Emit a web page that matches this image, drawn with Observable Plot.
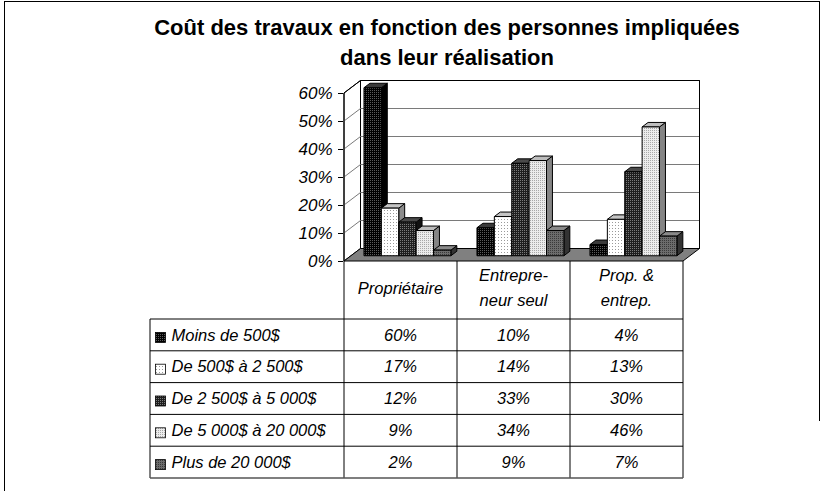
<!DOCTYPE html>
<html><head><meta charset="utf-8">
<script src="https://cdn.jsdelivr.net/npm/d3@7"></script>
<script src="https://cdn.jsdelivr.net/npm/@observablehq/plot@0.6"></script>
<style>
body{margin:0;background:#fff;}
#wrap{position:relative;width:823px;height:491px;overflow:hidden;font-family:"Liberation Sans",Arial,sans-serif;}
#frameL{position:absolute;left:4px;top:1px;width:816px;height:600px;border-left:1px solid #000;border-top:1px solid #000;box-sizing:border-box}
#frameR{position:absolute;left:819px;top:1px;width:1px;height:420px;background:#000}
#title{position:absolute;left:0;width:894px;top:13px;text-align:center;font-weight:bold;font-size:22px;line-height:30px;color:#000}
#chart{position:absolute;left:0;top:0}
</style></head><body>
<div id="wrap"><div id="frameL"></div><div id="frameR"></div><div id="title">Coût des travaux en fonction des personnes impliquées<br>dans leur réalisation</div><div id="chart"></div></div>
<script>
// ---- data ----
const categories = ["Propriétaire", "Entrepreneur seul", "Prop. & entrep."];
const categoryLabels = [["Propriétaire"], ["Entrepre-", "neur seul"], ["Prop. &", "entrep."]];
const series = ["Moins de 500$", "De 500$ à 2 500$", "De 2 500$ à 5 000$", "De 5 000$ à 20 000$", "Plus de 20 000$"];
const moins500 = [0.60, 0.10, 0.04];
const de500a2500 = [0.17, 0.14, 0.13];
const de2500a5000 = [0.12, 0.33, 0.30];
const de5000a20000 = [0.09, 0.34, 0.46];
const plus20000 = [0.02, 0.09, 0.07];
const yTicks = [0, 0.1, 0.2, 0.3, 0.4, 0.5, 0.6];

const seriesValues = [moins500, de500a2500, de2500a5000, de5000a20000, plus20000];
const rows = series.flatMap((s, si) => categories.map((c, ci) => ({series: s, si, category: c, ci, value: seriesValues[si][ci]})));

// ---- styles ----
const faceStyles = [
  {base: "#000", dot: "#5a5a5a", n: 2, top: "#3a3a3a", side: "#000"},
  {base: "#fff", dot: "#9a9a9a", n: 3, top: "#c4c4c4", side: "#8c8c8c"},
  {base: "#1e1e1e", dot: "#7a7a7a", n: 2, top: "#4a4a4a", side: "#111"},
  {base: "#ececec", dot: "#a8a8a8", n: 2, top: "#bdbdbd", side: "#858585"},
  {base: "#6c6c6c", dot: "#3a3a3a", n: 2, top: "#8a8a8a", side: "#333"}
];
const fmt = d3.format(".0%");
const FONT = "'Liberation Sans', Arial, sans-serif";

function scene(index, scales, values, dimensions) {
  const {x, y} = scales;
  const bw = x.bandwidth();
  const xL = x(categories[0]);
  const xR = x(categories[categories.length - 1]) + bw;
  const y0 = y(0), yTop = y(yTicks[yTicks.length - 1]);
  const DX = 16.5, DY = -12.5;
  const fF = 0.42, fB = 0.78;
  const svg = d3.create("svg:g");
  const defs = svg.append("defs");
  faceStyles.forEach((st, i) => {
    const p = defs.append("pattern").attr("id", "pat" + i).attr("patternUnits", "userSpaceOnUse")
      .attr("width", st.n).attr("height", st.n);
    p.append("rect").attr("width", st.n).attr("height", st.n).attr("fill", st.base);
    p.append("rect").attr("x", 0).attr("y", 0).attr("width", 1).attr("height", 1).attr("fill", st.dot);
  });
  const poly = (pts) => "M" + pts.map(p => p.join(",")).join("L") + "Z";
  const walls = svg.append("g").attr("stroke-linejoin", "miter");
  walls.append("path").attr("d", poly([[xL + DX, y0 + DY], [xL + DX, yTop + DY], [xR + DX, yTop + DY], [xR + DX, y0 + DY]]))
    .attr("fill", "#fff").attr("stroke", "#000");
  walls.append("path").attr("d", poly([[xL, y0], [xL, yTop], [xL + DX, yTop + DY], [xL + DX, y0 + DY]]))
    .attr("fill", "#fff").attr("stroke", "#000");
  yTicks.slice(1, -1).forEach(t => {
    walls.append("path").attr("d", `M${xL},${y(t)}L${xL + DX},${y(t) + DY}L${xR + DX},${y(t) + DY}`)
      .attr("fill", "none").attr("stroke", "#7a7a7a");
  });
  walls.append("path").attr("d", poly([[xL, yTop], [xL + DX, yTop + DY], [xR + DX, yTop + DY], [xR + DX, y0 + DY]]).replace("Z", ""))
    .attr("fill", "none").attr("stroke", "#000");
  walls.append("path").attr("d", poly([[xL, y0], [xR, y0], [xR + DX, y0 + DY], [xL + DX, y0 + DY]]))
    .attr("fill", "#808080").attr("stroke", "#000");
  const w = bw / 6.5, pad = bw * 0.75 / 6.5;
  const bars = svg.append("g").attr("stroke", "#000").attr("stroke-linejoin", "miter");
  categories.forEach((c, ci) => {
    rows.filter(r => r.ci === ci).forEach(r => {
      const xl = x(c) + pad + r.si * w, xr = xl + w;
      const yv = y(r.value);
      const fdx = DX * fF, fdy = DY * fF, bdx = DX * fB, bdy = DY * fB;
      const st = faceStyles[r.si];
      bars.append("path").attr("fill", st.side)
        .attr("d", poly([[xr + fdx, yv + fdy], [xr + bdx, yv + bdy], [xr + bdx, y0 + bdy], [xr + fdx, y0 + fdy]]));
      bars.append("path").attr("fill", st.top)
        .attr("d", poly([[xl + fdx, yv + fdy], [xr + fdx, yv + fdy], [xr + bdx, yv + bdy], [xl + bdx, yv + bdy]]));
      bars.append("path").attr("fill", `url(#pat${r.si})`)
        .attr("d", poly([[xl + fdx, yv + fdy], [xr + fdx, yv + fdy], [xr + fdx, y0 + fdy], [xl + fdx, y0 + fdy]]));
    });
  });
  const headerH = 58, rowH = 31.8, tableLeft = 150;
  const hb = y0 + headerH;
  const tableBottom = hb + rowH * series.length;
  const tb = svg.append("g").attr("stroke", "#000").attr("fill", "none");
  tb.append("line").attr("x1", xL).attr("x2", xL).attr("y1", yTop).attr("y2", tableBottom);
  categories.forEach((c, ci) => {
    const xe = x(c) + bw;
    tb.append("line").attr("x1", xe).attr("x2", xe).attr("y1", y0).attr("y2", tableBottom);
  });
  tb.append("line").attr("x1", tableLeft).attr("x2", tableLeft).attr("y1", hb).attr("y2", tableBottom);
  series.forEach((s, si) => {
    const yy = hb + rowH * si;
    tb.append("line").attr("x1", tableLeft).attr("x2", xR).attr("y1", yy).attr("y2", yy);
  });
  tb.append("line").attr("x1", tableLeft).attr("x2", xR).attr("y1", tableBottom).attr("y2", tableBottom)
    .attr("stroke", "#555").attr("stroke-width", 1.6);
  const txt = svg.append("g").attr("font-family", FONT).attr("font-style", "italic").attr("font-size", 16.5).attr("fill", "#000");
  categories.forEach((c, ci) => {
    const lines = categoryLabels[ci];
    const cx = x(c) + bw / 2;
    lines.forEach((ln, li) => {
      const cy = lines.length === 1 ? y0 + 27 : y0 + 14.5 + li * 24.5;
      txt.append("text").attr("x", cx).attr("y", cy).attr("dy", "0.35em").attr("text-anchor", "middle").text(ln);
    });
  });
  series.forEach((s, si) => {
    const cy = hb + rowH * (si + 0.5);
    svg.append("rect").attr("x", tableLeft + 5.5).attr("y", cy - 2.5).attr("width", 10).attr("height", 10)
      .attr("fill", `url(#pat${si})`).attr("stroke", "#000").attr("stroke-width", 0.8);
    txt.append("text").attr("x", tableLeft + 21.5).attr("y", cy).attr("dy", "0.35em").attr("text-anchor", "start").text(s);
    categories.forEach((c, ci) => {
      txt.append("text").attr("x", x(c) + bw / 2).attr("y", cy).attr("dy", "0.35em").attr("text-anchor", "middle")
        .text(fmt(seriesValues[si][ci]));
    });
  });
  return svg.node();
}

const chart = Plot.plot({
  width: 823,
  height: 491,
  marginLeft: 343,
  marginRight: 140,
  marginTop: 93,
  marginBottom: 230,
  style: {background: "transparent", fontFamily: FONT, overflow: "visible"},
  x: {type: "band", domain: categories, padding: 0, axis: null},
  y: {domain: [0, 0.6], axis: null},
  marks: [
    scene,
    Plot.axisY(yTicks, {anchor: "left", tickFormat: fmt, tickSize: 5, tickPadding: 6, fontSize: 17, fontStyle: "italic", fontFamily: FONT, label: null, stroke: "#000", fill: "#000"})
  ]
});
document.getElementById("chart").appendChild(chart);
</script>
</body></html>
